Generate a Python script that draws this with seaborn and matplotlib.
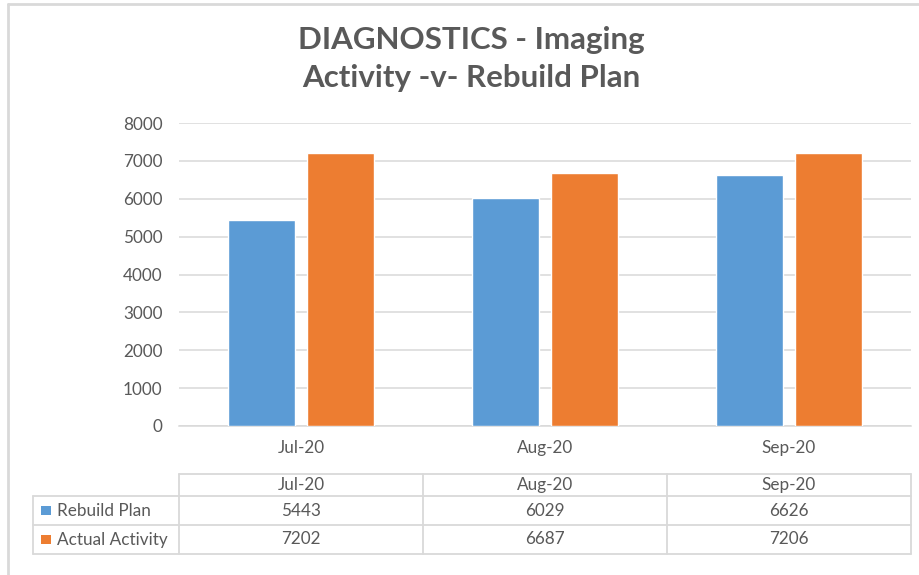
import pandas as pd
import matplotlib.pyplot as plt
import matplotlib.transforms as mtransforms
from matplotlib.patches import Rectangle
import seaborn as sns

MONTHS = ["Jul-20", "Aug-20", "Sep-20"]
REBUILD_PLAN = [5443, 6029, 6626]
ACTUAL_ACTIVITY = [7202, 6687, 7206]
SERIES = ["Rebuild Plan", "Actual Activity"]
COLORS = ["#5B9BD5", "#ED7D31"]
Y_TICKS = [0, 1000, 2000, 3000, 4000, 5000, 6000, 7000, 8000]
TITLE = "DIAGNOSTICS - Imaging\nActivity -v- Rebuild Plan"

TEXT = "#595959"
GRID = "#D9D9D9"
W, H = 919, 575
FS = 12.3

sns.set_style("white")
plt.rcParams["font.family"] = ["Lato", "DejaVu Sans"]

df = pd.DataFrame({
    "Month": MONTHS * 2,
    "Series": [SERIES[0]] * 3 + [SERIES[1]] * 3,
    "Value": REBUILD_PLAN + ACTUAL_ACTIVITY,
})

fig = plt.figure(figsize=(W / 100, H / 100), dpi=100)
ax = fig.add_axes([179 / W, 1 - 426 / H, (911 - 179) / W, (426 - 123) / H])

sns.barplot(data=df, x="Month", y="Value", hue="Series", order=MONTHS,
            hue_order=SERIES, palette=COLORS, width=0.65, gap=0.15,
            saturation=1, legend=False, ax=ax, zorder=3)

ax.set_xlim(-0.5, len(MONTHS) - 0.5)
ax.set_ylim(0, 8000)
ax.set_yticks(Y_TICKS)
ax.set_xlabel("")
ax.set_ylabel("")
ax.grid(axis="y", color=GRID, linewidth=1.1, zorder=0)
ax.grid(axis="x", visible=False)
for s in ["top", "right", "left"]:
    ax.spines[s].set_visible(False)
ax.spines["bottom"].set_color(GRID)
ax.spines["bottom"].set_linewidth(1.1)
ax.tick_params(axis="y", length=0, pad=12, labelsize=FS, labelcolor=TEXT)
ax.tick_params(axis="x", length=0, pad=10, labelsize=FS, labelcolor=TEXT)

fig.text(471 / W, 1 - 59 / H, TITLE, ha="center", va="center", fontsize=22.5,
         fontweight="bold", color=TEXT, linespacing=1.42)

# chart border (top and left visible in the crop)
fig.add_artist(plt.Line2D([8 / W, 8 / W], [0, 1 - 4 / H], transform=fig.transFigure,
                          color=GRID, linewidth=2))
fig.add_artist(plt.Line2D([8 / W, 1], [1 - 4 / H, 1 - 4 / H], transform=fig.transFigure,
                          color=GRID, linewidth=2))

# data table under the axis
blend = mtransforms.blended_transform_factory(ax.transData, fig.transFigure)
y_head_top, y_head_bot, y_r1_bot, y_r2_bot = [1 - v / H for v in (474, 496, 525, 554)]
x_left = -0.5
x_right = len(MONTHS) - 0.5
x_label = 33 / W

line_kw = dict(color=GRID, linewidth=1.3)
# horizontal lines
ax.plot([x_left, x_right], [y_head_top] * 2, transform=blend, clip_on=False, **line_kw)
for yy in (y_head_bot, y_r1_bot, y_r2_bot):
    fig.add_artist(plt.Line2D([x_label, 911 / W], [yy, yy], transform=fig.transFigure, **line_kw))
# vertical lines
for i in range(len(MONTHS) + 1):
    ax.plot([i - 0.5, i - 0.5], [y_head_top, y_r2_bot], transform=blend, clip_on=False, **line_kw)
fig.add_artist(plt.Line2D([x_label, x_label], [y_head_bot, y_r2_bot],
                          transform=fig.transFigure, **line_kw))

row_centers = [(y_head_bot + y_r1_bot) / 2, (y_r1_bot + y_r2_bot) / 2]
for i, m in enumerate(MONTHS):
    ax.text(i, (y_head_top + y_head_bot) / 2, m, transform=blend, ha="center",
            va="center", fontsize=FS, color=TEXT)
    ax.text(i, row_centers[0], str(REBUILD_PLAN[i]), transform=blend, ha="center",
            va="center", fontsize=FS, color=TEXT)
    ax.text(i, row_centers[1], str(ACTUAL_ACTIVITY[i]), transform=blend, ha="center",
            va="center", fontsize=FS, color=TEXT)

for name, col, yc in zip(SERIES, COLORS, row_centers):
    fig.add_artist(Rectangle((41 / W, yc - 4.5 / H), 9.5 / W, 9.5 / H,
                             transform=fig.transFigure, facecolor=col, edgecolor="none"))
    fig.text(57 / W, yc, name, ha="left", va="center", fontsize=FS, color=TEXT)

fig.savefig("out.png", dpi=100)
